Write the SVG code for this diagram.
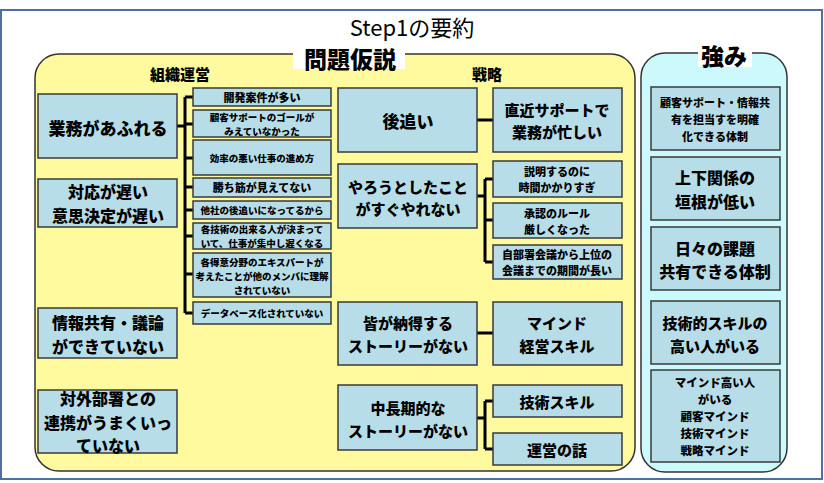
<svg xmlns="http://www.w3.org/2000/svg" width="824" height="483" viewBox="0 0 824 483">
<style>
.frame{fill:#ffffff;stroke:#4f6f9f;stroke-width:2}
.yel{fill:#fffa9e;stroke:#333;stroke-width:1.5}
.cyan{fill:#ccf9fb;stroke:#333;stroke-width:1.5}
.lbl{fill:#ffffff}
.box{fill:#b7dde8;stroke:#3a3a3a;stroke-width:1.5}
text{font-family:"Noto Sans CJK JP","Noto Sans",sans-serif;fill:#000;text-anchor:middle;dominant-baseline:central}
.b{font-weight:900}
.t{font-size:22px;font-weight:400}
.h{font-size:23px;font-weight:900}
.s{font-size:15px;font-weight:900}
.L{font-size:17px}
.L2{font-size:16px}
.M{font-size:15px}
.S{font-size:9.5px}
.SS{font-size:11px}
.R{font-size:11.5px}
.con{stroke:#000;stroke-width:3;fill:none}
</style>
<rect class="frame" x="1" y="10" width="821" height="469"/>
<text class="t" x="412" y="26">Step1の要約</text>
<rect class="yel" x="35" y="54" width="600" height="417" rx="24"/>
<rect class="cyan" x="641" y="53" width="146" height="419" rx="24"/>
<rect class="lbl" x="293" y="43" width="112" height="26"/>
<text class="h" x="350" y="58">問題仮説</text>
<rect class="lbl" x="698" y="42" width="54" height="25"/>
<text class="h" x="724" y="55">強み</text>
<text class="s" x="180" y="73">組織運営</text>
<text class="s" x="487" y="73">戦略</text>

<g id="connectors">
<path class="con" d="M177 126H185M185 97V313M185 97H193M185 124H193M185 158H193M185 187H193M185 210H193M185 236H193M185 274H193M185 313H193"/>
<path class="con" d="M477 120H493"/>
<path class="con" d="M477 196H485M485 179V262M485 179H493M485 220H493M485 262H493"/>
<path class="con" d="M477 333H493"/>
<path class="con" d="M477 418H485M485 401V449M485 401H493M485 449H493"/>
</g>

<g id="n-gyomu"><rect class="box" x="38" y="94" width="139" height="64"/><text class="b L" x="108" y="127">業務があふれる</text></g>
<g id="n-taiou"><rect class="box" x="38" y="179" width="139" height="48"/><text class="b L2" x="108" y="191">対応が遅い</text><text class="b L2" x="108" y="214.5">意思決定が遅い</text></g>
<g id="n-joho"><rect class="box" x="38" y="308" width="139" height="50"/><text class="b L2" x="108" y="322">情報共有・議論</text><text class="b L2" x="108" y="345.5">ができていない</text></g>
<g id="n-taigai"><rect class="box" x="38" y="390" width="139" height="63"/><text class="b L2" x="108" y="398">対外部署との</text><text class="b L2" x="108" y="421.5">連携がうまくいっ</text><text class="b L2" x="108" y="445">ていない</text></g>

<g id="n-kaihatsu"><rect class="box" x="193" y="88" width="138" height="18"/><text class="b SS" x="262" y="97">開発案件が多い</text></g>
<g id="n-kokyaku"><rect class="box" x="193" y="110" width="138" height="27"/><text class="b S" x="262" y="116.5">顧客サポートのゴールが</text><text class="b S" x="262" y="130.5">みえていなかった</text></g>
<g id="n-koritsu"><rect class="box" x="193" y="140" width="138" height="35"/><text class="b S" x="262" y="158">効率の悪い仕事の進め方</text></g>
<g id="n-kachisuji"><rect class="box" x="193" y="178" width="138" height="19"/><text class="b SS" x="262" y="187">勝ち筋が見えてない</text></g>
<g id="n-tasha"><rect class="box" x="193" y="201" width="138" height="18"/><text class="b S" x="262" y="210">他社の後追いになってるから</text></g>
<g id="n-kakugijutsu"><rect class="box" x="193" y="223" width="138" height="26"/><text class="b S" x="262" y="229">各技術の出来る人が決まって</text><text class="b S" x="262" y="243">いて、仕事が集中し遅くなる</text></g>
<g id="n-tokui"><rect class="box" x="193" y="253" width="138" height="44"/><text class="b S" x="262" y="261.5">各得意分野のエキスパートが</text><text class="b S" x="262" y="275.5">考えたことが他のメンバに理解</text><text class="b S" x="262" y="289.5">されていない</text></g>
<g id="n-db"><rect class="box" x="193" y="302" width="138" height="22"/><text class="b S" x="262" y="313">データベース化されていない</text></g>

<g id="n-atooi"><rect class="box" x="338" y="88" width="139" height="64"/><text class="b L" x="408" y="120">後追い</text></g>
<g id="n-chokkin"><rect class="box" x="493" y="88" width="129" height="64"/><text class="b M" x="557" y="109">直近サポートで</text><text class="b M" x="557" y="131">業務が忙しい</text></g>
<g id="n-yarou"><rect class="box" x="338" y="164" width="139" height="64"/><text class="b M" x="408" y="186">やろうとしたこと</text><text class="b M" x="408" y="208">がすぐやれない</text></g>
<g id="n-setsumei"><rect class="box" x="493" y="161" width="129" height="36"/><text class="b SS" x="557" y="171">説明するのに</text><text class="b SS" x="557" y="187">時間かかりすぎ</text></g>
<g id="n-shonin"><rect class="box" x="493" y="203" width="129" height="35"/><text class="b SS" x="557" y="212.5">承認のルール</text><text class="b SS" x="557" y="228.5">厳しくなった</text></g>
<g id="n-jibusho"><rect class="box" x="493" y="245" width="129" height="34"/><text class="b SS" x="557" y="254">自部署会議から上位の</text><text class="b SS" x="557" y="270">会議までの期間が長い</text></g>
<g id="n-minna"><rect class="box" x="338" y="302" width="139" height="63"/><text class="b M" x="408" y="322">皆が納得する</text><text class="b M" x="408" y="345">ストーリーがない</text></g>
<g id="n-mind"><rect class="box" x="493" y="302" width="129" height="63"/><text class="b M" x="557" y="322">マインド</text><text class="b M" x="557" y="345">経営スキル</text></g>
<g id="n-chuchoki"><rect class="box" x="338" y="385" width="139" height="65"/><text class="b M" x="408" y="407">中長期的な</text><text class="b M" x="408" y="430">ストーリーがない</text></g>
<g id="n-gijutsuskill"><rect class="box" x="493" y="385" width="129" height="32"/><text class="b M" x="557" y="401">技術スキル</text></g>
<g id="n-unei"><rect class="box" x="493" y="433" width="129" height="32"/><text class="b M" x="557" y="449">運営の話</text></g>

<g id="n-s1"><rect class="box" x="651" y="87" width="129" height="63"/><text class="b SS" x="715" y="102">顧客サポート・情報共</text><text class="b SS" x="715" y="119">有を担当すを明確</text><text class="b SS" x="715" y="136">化できる体制</text></g>
<g id="n-s2"><rect class="box" x="651" y="157" width="129" height="63"/><text class="b L2" x="715" y="177">上下関係の</text><text class="b L2" x="715" y="200.5">垣根が低い</text></g>
<g id="n-s3"><rect class="box" x="651" y="227" width="129" height="63"/><text class="b L2" x="715" y="247.5">日々の課題</text><text class="b L2" x="715" y="271">共有できる体制</text></g>
<g id="n-s4"><rect class="box" x="651" y="301" width="129" height="63"/><text class="b M" x="715" y="322">技術的スキルの</text><text class="b M" x="715" y="345">高い人がいる</text></g>
<g id="n-s5"><rect class="box" x="651" y="370" width="129" height="92"/><text class="b R" x="715" y="382">マインド高い人</text><text class="b R" x="715" y="399">がいる</text><text class="b R" x="715" y="416">顧客マインド</text><text class="b R" x="715" y="433">技術マインド</text><text class="b R" x="715" y="450">戦略マインド</text></g>
</svg>
